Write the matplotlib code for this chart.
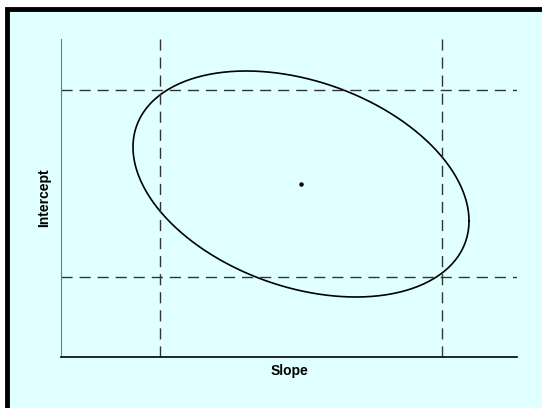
"""Joint confidence region for slope and intercept, with the marginal intervals."""

import numpy as np
import matplotlib

matplotlib.use("Agg")
import matplotlib.pyplot as plt
from matplotlib.patches import Rectangle

# estimate and its covariance (axis units)
center = [240, 173]            # slope, intercept
cov = [[28224, -6200],
       [-6200, 12769]]
slope_ci = [99, 381]
intercept_ci = [80, 267]
x_range = [0, 456]
y_range = [0, 318]

BG = "#e0ffff"
W, H = 542, 408

fig = plt.figure(figsize=(W / 100, H / 100), dpi=100, facecolor="white")
fig.patches.append(Rectangle((7 / W, -0.1), 1.2, 1 - 9 / H + 0.1,
                             transform=fig.transFigure, facecolor=BG,
                             edgecolor="black", linewidth=3.5, zorder=-10))

ax = fig.add_axes([61 / W, (H - 357) / H, 456 / W, 318 / H])
ax.set_facecolor("none")

# ellipse from covariance
t = np.linspace(0, 2 * np.pi, 400)
L = np.linalg.cholesky(np.array(cov, dtype=float))
pts = L @ np.vstack([np.cos(t), np.sin(t)])
ax.plot(center[0] + pts[0], center[1] + pts[1], color="black", lw=1.2)
ax.plot(center[0], center[1], "o", color="black", ms=2.2)

for x in slope_ci:
    ax.axvline(x, color="#333333", lw=1, ls=(0, (8, 5)))
for y in intercept_ci:
    ax.axhline(y, color="#333333", lw=1, ls=(0, (8, 5)))

ax.set_xlim(x_range)
ax.set_ylim(y_range)
ax.set_xticks([]); ax.set_yticks([])
for s in ("top", "right"):
    ax.spines[s].set_visible(False)
ax.spines["left"].set_color("#777777")
ax.spines["bottom"].set_linewidth(1.2)

font = dict(family="Liberation Sans", fontweight="bold", fontsize=10)
ax.set_xlabel("Slope", labelpad=5, **font)
ax.set_ylabel("Intercept", labelpad=7, **font)

fig.savefig("out.png", dpi=100, facecolor="white")
